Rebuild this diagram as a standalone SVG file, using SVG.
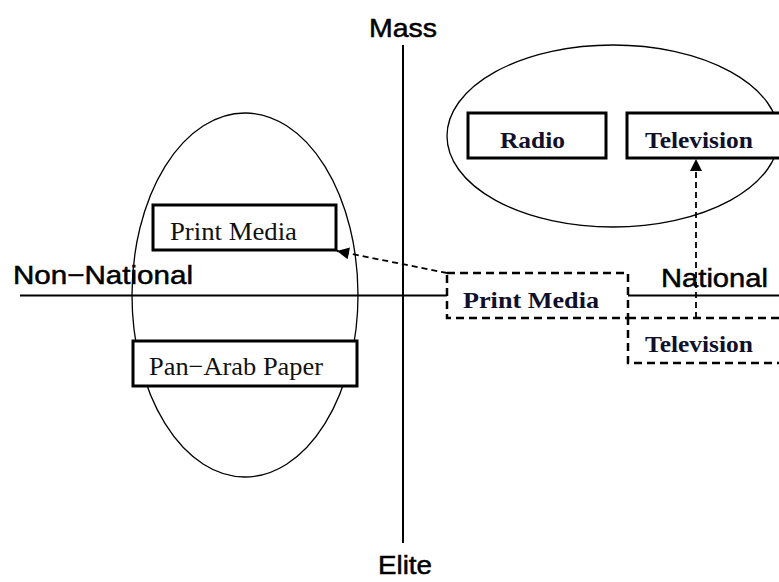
<svg xmlns="http://www.w3.org/2000/svg" width="779" height="582" viewBox="0 0 779 582">
<style>
.axis{stroke:#000;stroke-width:2;fill:none}
.ell{stroke:#000;stroke-width:1.3;fill:none}
.box{stroke:#000;stroke-width:3;fill:#fff}
.dbox{stroke:#000;stroke-width:2.5;fill:#fff;stroke-dasharray:8 5}
.sans{font-family:"Liberation Sans","Noto Sans",sans-serif;font-size:26px;fill:#000;stroke:#000;stroke-width:0.5}
.ser{font-family:"Liberation Serif","DejaVu Serif",serif;font-size:26px;fill:#111}
.bold{font-family:"Liberation Serif","DejaVu Serif",serif;font-size:24px;font-weight:bold;fill:#10102a}
.conn{stroke:#000;stroke-width:1.8;fill:none;stroke-dasharray:6 4}
</style>
<defs>
<marker id="ah2" viewBox="0 0 10 10" refX="10" refY="5" markerWidth="13" markerHeight="12" markerUnits="userSpaceOnUse" orient="auto">
<path d="M0,0 L10,5 L0,10 z" fill="#000"/>
</marker>
</defs>
<rect width="779" height="582" fill="#fff"/>
<g id="axes">
<line class="axis" x1="20" y1="295.5" x2="779" y2="295.5"/>
<line class="axis" x1="403" y1="45" x2="403" y2="543"/>
<text class="sans" x="403" y="37" text-anchor="middle" textLength="68" lengthAdjust="spacingAndGlyphs">Mass</text>
<text class="sans" x="405" y="574" text-anchor="middle" font-size="25" textLength="54" lengthAdjust="spacingAndGlyphs">Elite</text>
<text class="sans" x="13" y="284" textLength="180" lengthAdjust="spacingAndGlyphs">Non−National</text>
<text class="sans" x="661" y="287" textLength="107" lengthAdjust="spacingAndGlyphs">National</text>
</g>
<g id="group-nonnational">
<ellipse class="ell" cx="245" cy="295" rx="113" ry="182"/>
</g>
<g id="group-national">
<ellipse class="ell" cx="613" cy="136" rx="166" ry="91"/>
</g>
<g id="print-media-nonnational">
<rect class="box" x="153" y="205" width="183" height="45"/>
<text class="ser" x="170" y="240" textLength="127" lengthAdjust="spacingAndGlyphs">Print Media</text>
</g>
<g id="pan-arab-paper">
<rect class="box" x="133" y="341" width="224" height="45"/>
<text class="ser" x="149" y="375" textLength="174" lengthAdjust="spacingAndGlyphs">Pan−Arab Paper</text>
</g>
<g id="radio">
<rect class="box" x="468" y="113" width="138" height="45"/>
<text class="bold" x="500" y="148" textLength="65" lengthAdjust="spacingAndGlyphs">Radio</text>
</g>
<g id="television-mass">
<rect class="box" x="627" y="113" width="160" height="45"/>
<text class="bold" x="645" y="148" textLength="108" lengthAdjust="spacingAndGlyphs">Television</text>
</g>
<g id="print-media-national">
<rect class="dbox" x="447" y="273" width="181" height="45"/>
<text class="bold" x="463" y="308" textLength="136" lengthAdjust="spacingAndGlyphs">Print Media</text>
</g>
<g id="television-elite">
<rect class="dbox" x="628" y="318" width="160" height="45"/>
<text class="bold" x="645" y="352" textLength="108" lengthAdjust="spacingAndGlyphs">Television</text>
</g>
<g id="connectors">
<line class="conn" x1="447" y1="273" x2="337" y2="251" marker-end="url(#ah2)"/>
<line class="conn" x1="696" y1="318" x2="696" y2="159" stroke-dasharray="5 4" stroke-width="1.5" marker-end="url(#ah2)"/>
</g>
</svg>
